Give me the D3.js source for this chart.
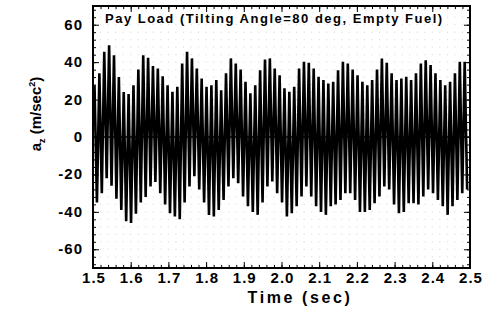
<!DOCTYPE html>
<html>
<head>
<meta charset="utf-8">
<script src="https://cdn.jsdelivr.net/npm/d3@7"></script>
<style>
  body { margin: 0; background: #fff; }
  text { font-family: Arial, "Liberation Sans", sans-serif; font-weight: bold; fill: #000; }
</style>
</head>
<body>
<div class="chart"></div>
<script>
// peak values (m/sec^2), one per cycle
var upperPeaks = [
    27.7, 34, 45.5, 49, 43.7, 32, 24, 23, 27.7, 36, 43.7, 42.3, 37.9,
    36.6, 32.5, 27.7, 24.2, 26.8, 39.3, 45.5, 42, 36.6, 31.3, 26.8, 27.7, 30.4,
    25, 34, 42, 39.3, 36, 29.5, 23.3, 27.7, 35.7, 41.4, 42, 36.6, 33,
    26, 24.2, 26.8, 36.6, 40.2, 39.6, 36.6, 32.2, 30.4, 28.6, 29.5, 35.7, 40.2,
    39.3, 36, 33, 29.5, 27.7, 30.4, 36, 42, 39.6, 34, 30.4, 31.3, 32.2,
    30.4, 34, 39.3, 41, 38.4, 34, 30.4, 27.7, 29.5, 34, 40.2, 40.2
];
// trough values, one per cycle
var lowerPeaks = [
    -35, -30, -22, -26, -33, -39, -45, -46, -41, -35, -32, -26.5, -24,
    -30, -36, -40.7, -42.5, -44, -35, -26.5, -21, -28, -35, -41.6, -42.5, -39,
    -33.6, -26.5, -22, -24.7, -31.8, -37, -40, -41.6, -35, -26.5, -23.8, -30, -35,
    -42.5, -40.7, -37, -31.8, -26.5, -31.8, -37, -40, -41.6, -37, -36, -33.6, -30,
    -30, -33.6, -40, -40, -39, -35.4, -31.8, -26.5, -28, -36, -40.7, -40, -35.4,
    -35.4, -36, -31.8, -28, -30, -33.6, -37, -41.6, -37, -33.6, -30, -28
];
var startTime = 1.504;   // first peak (sec)
var period = 0.01292;    // one cycle (sec)

var xTicks = [1.5, 1.6, 1.7, 1.8, 1.9, 2.0, 2.1, 2.2, 2.3, 2.4, 2.5];
var yTicks = [-60, -40, -20, 0, 20, 40, 60];
var titleText = "Pay Load (Tilting Angle=80 deg, Empty Fuel)";

var W = 485, H = 324;
var pLeft = 93, pRight = 470, pTop = 6, pBottom = 268;

var svg = d3.select(".chart").append("svg")
    .attr("width", W)
    .attr("height", H);

var x = d3.scaleLinear().domain([1.5, 2.5]).range([pLeft, pRight]);
var y = d3.scaleLinear().domain([-70, 70]).range([pBottom, pTop]);

// dotted grid at the minor ticks
var gx = d3.range(1.52, 2.5, 0.02);
var gy = d3.range(-68, 70, 4);
var dots = svg.append("g");
gx.forEach(function(t){
    gy.forEach(function(v){
        dots.append("rect")
            .attr("x", x(t) - 0.5)
            .attr("y", y(v) - 0.5)
            .attr("width", 1)
            .attr("height", 1)
            .attr("fill", "#d4d4d4");
    });
});

// signal, peak then trough each cycle
var pts = [];
upperPeaks.forEach(function(v, i){
    pts.push([startTime + i*period, v]);
    pts.push([startTime + (i + 0.5)*period, lowerPeaks[i]]);
});

svg.append("clipPath").attr("id", "plotclip")
    .append("rect")
    .attr("x", pLeft).attr("y", pTop)
    .attr("width", pRight - pLeft).attr("height", pBottom - pTop);

var line = d3.line()
    .x(function(d){ return x(d[0]); })
    .y(function(d){ return y(d[1]); });

svg.append("path")
    .datum(pts)
    .attr("clip-path", "url(#plotclip)")
    .attr("d", line)
    .attr("fill", "none")
    .attr("stroke", "#000")
    .attr("stroke-width", 2.6)
    .attr("stroke-linejoin", "bevel");

// zero line
svg.append("line")
    .attr("x1", pLeft).attr("x2", pRight)
    .attr("y1", y(0)).attr("y2", y(0))
    .attr("stroke", "#000")
    .attr("stroke-width", 1.5);

// axes, ticks pointing inward on all sides
var xMinor = d3.range(1.5, 2.5001, 0.02);
var yMinor = d3.range(-68, 70, 4);

svg.append("g")
    .attr("transform", "translate(0," + pBottom + ")")
    .call(d3.axisTop(x).tickValues(xMinor).tickSize(3).tickFormat(""));
svg.append("g")
    .attr("transform", "translate(0," + pBottom + ")")
    .call(d3.axisTop(x).tickValues(xTicks).tickSize(6).tickFormat(""));
svg.append("g")
    .attr("transform", "translate(0," + pTop + ")")
    .call(d3.axisBottom(x).tickValues(xMinor).tickSize(3).tickFormat(""));
svg.append("g")
    .attr("transform", "translate(0," + pTop + ")")
    .call(d3.axisBottom(x).tickValues(xTicks).tickSize(6).tickFormat(""));
svg.append("g")
    .attr("transform", "translate(" + pLeft + ",0)")
    .call(d3.axisRight(y).tickValues(yMinor).tickSize(3).tickFormat(""));
svg.append("g")
    .attr("transform", "translate(" + pLeft + ",0)")
    .call(d3.axisRight(y).tickValues(yTicks).tickSize(6).tickFormat(""));
svg.append("g")
    .attr("transform", "translate(" + pRight + ",0)")
    .call(d3.axisLeft(y).tickValues(yMinor).tickSize(3).tickFormat(""));
svg.append("g")
    .attr("transform", "translate(" + pRight + ",0)")
    .call(d3.axisLeft(y).tickValues(yTicks).tickSize(6).tickFormat(""));

svg.selectAll(".domain").remove();
svg.selectAll(".tick line").attr("stroke", "#000").attr("stroke-width", 1);

// frame
svg.append("rect")
    .attr("x", pLeft).attr("y", pTop)
    .attr("width", pRight - pLeft).attr("height", pBottom - pTop)
    .attr("fill", "none")
    .attr("stroke", "#000")
    .attr("stroke-width", 2);

// tick labels
svg.append("g").selectAll("text")
    .data(xTicks)
    .enter().append("text")
    .attr("x", function(d){ return x(d) + 1; })
    .attr("y", 283)
    .attr("text-anchor", "middle")
    .style("font-size", "15px")
    .style("letter-spacing", "1px")
    .text(function(d){ return d3.format(".1f")(d); });

svg.append("g").selectAll("text")
    .data(yTicks)
    .enter().append("text")
    .attr("x", 83)
    .attr("y", function(d){ return y(d) + 5; })
    .attr("text-anchor", "end")
    .style("font-size", "15px")
    .style("letter-spacing", "1px")
    .text(function(d){ return d; });

// title inside the plot
svg.append("text")
    .attr("x", 105)
    .attr("y", 23)
    .style("font-size", "13px")
    .style("letter-spacing", "1.5px")
    .text(titleText);

// axis titles
svg.append("text")
    .attr("x", 300)
    .attr("y", 303)
    .attr("text-anchor", "middle")
    .style("font-size", "16px")
    .style("letter-spacing", "2.6px")
    .text("Time (sec)");

var ylab = svg.append("text")
    .attr("transform", "translate(41,114) rotate(-90)")
    .attr("text-anchor", "middle")
    .style("font-size", "15px");
ylab.append("tspan").text("a");
ylab.append("tspan").attr("dy", 4).style("font-size", "9px").text("z");
ylab.append("tspan").attr("dy", -4).text(" (m/sec");
ylab.append("tspan").attr("dy", -6).style("font-size", "9px").text("2");
ylab.append("tspan").attr("dy", 6).text(")");
</script>
</body>
</html>
